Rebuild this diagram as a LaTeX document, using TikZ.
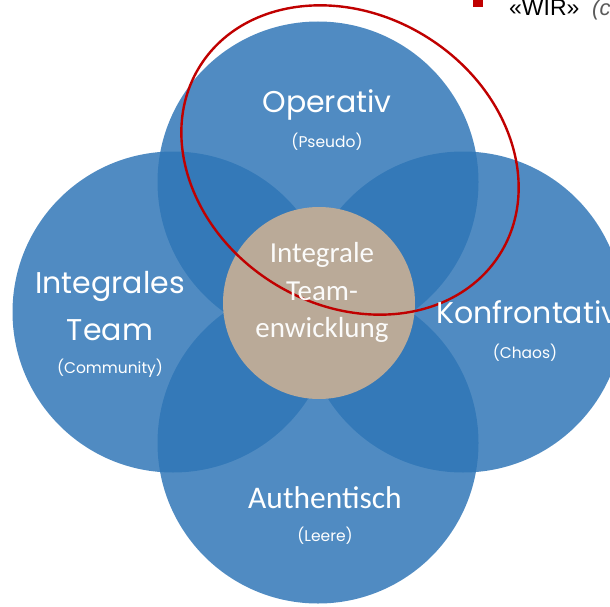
\documentclass[tikz,border=0pt]{standalone}
\usepackage{fontspec}
\setmainfont{Carlito}
\newfontfamily\geofont{Poppins}
\newfontfamily\arialfont{Liberation Sans}

\definecolor{petal}{RGB}{46,117,182}
\definecolor{core}{RGB}{186,170,152}
\definecolor{ring}{RGB}{192,0,0}
\definecolor{notegray}{RGB}{90,90,90}

\begin{document}
\begin{tikzpicture}[x=1pt,y=-1pt,
  petal/.style={circle, fill=petal, fill opacity=0.84, draw=none,
                minimum size=321pt, inner sep=0pt},
  corecircle/.style={circle, fill=core, draw=none, minimum size=192pt, inner sep=0pt},
  heading/.style={text=white, inner sep=0pt, font=\geofont\fontsize{30}{34}\selectfont},
  subheading/.style={text=white, inner sep=0pt, font=\geofont\fontsize{15.5}{18}\selectfont},
  calheading/.style={text=white, inner sep=0pt, font=\fontsize{31.5}{36}\selectfont},
  coretext/.style={text=white!95!core, inner sep=0pt, align=center,
                   font=\fontsize{29}{37.5}\selectfont},
  ringline/.style={draw=ring, line width=2.4pt},
  notetext/.style={inner sep=0pt, font=\arialfont\fontsize{23}{26}\selectfont}
]
\useasboundingbox (0,0) rectangle (610,607);
\clip (0,0) rectangle (610,607);

% four overlapping stage circles
\node[petal] (top)    at (318,182) {};
\node[petal] (left)   at (173,312) {};
\node[petal] (right)  at (463,312) {};
\node[petal] (bottom) at (318,443) {};

% central circle
\node[corecircle] (core) at (319,303) {};

% red outline around the "Operativ" stage
\draw[ringline, rotate around={-32:(350,160)}] (350,160) ellipse [x radius=177, y radius=145];

% stage labels
\node[heading, anchor=base] (opT) at (327,113) {Operativ};
\node[subheading, anchor=base] (opS) at (327,147) {(Pseudo)};

\node[heading, anchor=base] (inT1) at (110,293) {Integrales};
\node[heading, anchor=base] (inT2) at (110,340) {Team};
\node[subheading, anchor=base] (inS) at (110,373) {(Community)};

\node[heading, anchor=base west] (koT) at (436,323) {Konfrontativ};
\node[subheading, anchor=base] (koS) at (525,358) {(Chaos)};

\node[calheading, anchor=base] (auT) at (325,508) {Authentisch};
\node[subheading, anchor=base] (auS) at (325,541) {(Leere)};

% centre label
\node[coretext, anchor=base] (coreL1) at (322,262) {Integrale};
\node[coretext, anchor=base] (coreL2) at (322,300) {Team-};
\node[coretext, anchor=base] (coreL3) at (322,337) {enwicklung};

% bullet line at the top right
\node[fill=ring, minimum size=10pt, inner sep=0pt] (bullet) at (478,2) {};
\node[notetext, anchor=base west] (wir) at (509,16) {«WIR»};
\node[notetext, anchor=base west, text=notegray, font=\arialfont\itshape\fontsize{22}{26}\selectfont]
  (wirnote) at (592,16) {(c};
\end{tikzpicture}
\end{document}
